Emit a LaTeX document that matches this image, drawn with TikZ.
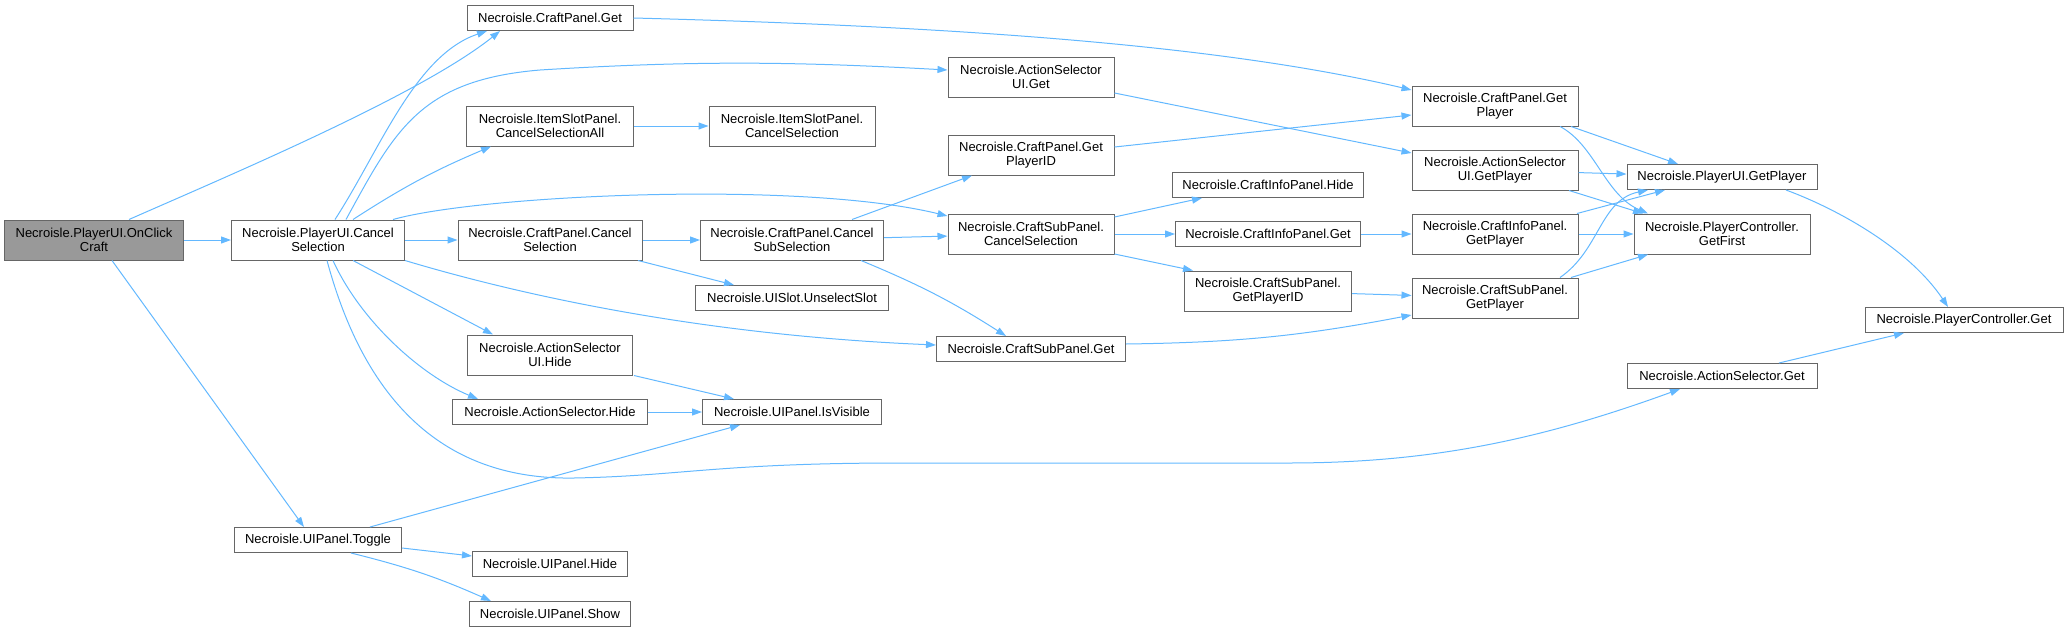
\documentclass[tikz,border=0pt]{standalone}
\usepackage{fontspec}
\setmainfont{Liberation Sans}
\usetikzlibrary{arrows.meta}
\definecolor{edgeblue}{HTML}{63B8FF}
\definecolor{boxgray}{HTML}{666666}
\definecolor{rootgray}{HTML}{999999}
\tikzset{
	fn/.style={draw=boxgray, line width=1pt, fill=white, align=center, inner xsep=2pt, inner ysep=2pt,
		minimum height=25pt, font=\fontsize{13pt}{14.5pt}\selectfont},
	fntwo/.style={fn, minimum height=40pt},
	root/.style={fntwo, fill=rootgray},
	call/.style={draw=edgeblue, line width=1pt, -{Triangle[length=10pt,width=7pt]}}
}
\begin{document}
	\begin{tikzpicture}[x=1pt, y=-1pt]
		\useasboundingbox (0,0) rectangle (2068,632);
		% nodes
		\node[root, minimum width=179] (oc) at (94,240) {Necroisle.PlayerUI.OnClick\\Craft};
		\node[fntwo, minimum width=173] (pucs) at (318,240) {Necroisle.PlayerUI.Cancel\\Selection};
		\node[fn, minimum width=166] (cpget) at (550,18) {Necroisle.CraftPanel.Get};
		\node[fntwo, minimum width=167] (ispall) at (550,126) {Necroisle.ItemSlotPanel.\\CancelSelectionAll};
		\node[fntwo, minimum width=184] (cpcs) at (550,240) {Necroisle.CraftPanel.Cancel\\Selection};
		\node[fntwo, minimum width=165] (asuihide) at (550,355) {Necroisle.ActionSelector\\UI.Hide};
		\node[fn, minimum width=195] (ashide) at (550,412) {Necroisle.ActionSelector.Hide};
		\node[fn, minimum width=179] (upvis) at (792,412) {Necroisle.UIPanel.IsVisible};
		\node[fn, minimum width=167] (uptog) at (318,540) {Necroisle.UIPanel.Toggle};
		\node[fn, minimum width=155] (uphide) at (550,564) {Necroisle.UIPanel.Hide};
		\node[fn, minimum width=161] (upshow) at (550,614) {Necroisle.UIPanel.Show};
		\node[fntwo, minimum width=166] (ispcs) at (792,126) {Necroisle.ItemSlotPanel.\\CancelSelection};
		\node[fntwo, minimum width=183] (cpcss) at (792,240) {Necroisle.CraftPanel.Cancel\\SubSelection};
		\node[fn, minimum width=193] (usunsel) at (792,298) {Necroisle.UISlot.UnselectSlot};
		\node[fntwo, minimum width=166] (asuiget) at (1031,77) {Necroisle.ActionSelector\\UI.Get};
		\node[fntwo, minimum width=166] (cpgpid) at (1031,155) {Necroisle.CraftPanel.Get\\PlayerID};
		\node[fntwo, minimum width=166] (cspcs) at (1031,234) {Necroisle.CraftSubPanel.\\CancelSelection};
		\node[fn, minimum width=189] (cspget) at (1031,349) {Necroisle.CraftSubPanel.Get};
		\node[fn, minimum width=191] (ciphide) at (1268,185) {Necroisle.CraftInfoPanel.Hide};
		\node[fn, minimum width=185] (cipget) at (1268,234) {Necroisle.CraftInfoPanel.Get};
		\node[fntwo, minimum width=167] (cspgpid) at (1268,291) {Necroisle.CraftSubPanel.\\GetPlayerID};
		\node[fntwo, minimum width=166] (cpgp) at (1495,106) {Necroisle.CraftPanel.Get\\Player};
		\node[fntwo, minimum width=166] (asuigp) at (1495,170) {Necroisle.ActionSelector\\UI.GetPlayer};
		\node[fntwo, minimum width=166] (cipgp) at (1495,234) {Necroisle.CraftInfoPanel.\\GetPlayer};
		\node[fntwo, minimum width=166] (cspgp) at (1495,298) {Necroisle.CraftSubPanel.\\GetPlayer};
		\node[fn, minimum width=190] (puigp) at (1722,177) {Necroisle.PlayerUI.GetPlayer};
		\node[fntwo, minimum width=176] (pcfirst) at (1722,234) {Necroisle.PlayerController.\\GetFirst};
		\node[fn, minimum width=198] (pcget) at (1964,320) {Necroisle.PlayerController.Get};
		\node[fn, minimum width=190] (asget) at (1722,376) {Necroisle.ActionSelector.Get};
		% calls
		\draw[call] ([xshift=35]oc.north) .. controls (230,175) and (420,95) .. ([xshift=-50]cpget.south);
		\draw[call] (oc) -- (pucs);
		\draw[call] ([xshift=18]oc.south) -- ([xshift=-14]uptog.north);
		\draw[call] ([xshift=17]pucs.north) .. controls (380,150) and (415,55) .. ([xshift=-63]cpget.south);
		\draw[call] ([xshift=28]pucs.north) .. controls (395,130) and (420,80) .. (540,70) .. controls (700,60) and (800,62) .. ([yshift=7]asuiget.west);
		\draw[call] ([xshift=35]pucs.north) to[bend left=5] ([xshift=-59]ispall.south);
		\draw[call] ([xshift=75]pucs.north) .. controls (480,195) and (800,180) .. ([yshift=18]cspcs.west);
		\draw[call] (pucs) -- (cpcs);
		\draw[call] (pucs.south east) .. controls (520,295) and (700,335) .. ([yshift=4]cspget.west);
		\draw[call] ([xshift=35]pucs.south) -- ([xshift=-57]asuihide.north);
		\draw[call] ([xshift=15]pucs.south) .. controls (360,320) and (420,375) .. ([xshift=-72]ashide.north);
		\draw[call] ([xshift=9]pucs.south) .. controls (370,420) and (460,480) .. (574,478) .. controls (680,476) and (720,463) .. (900,463) -- (1288,463) .. controls (1430,463) and (1540,440) .. ([xshift=-42]asget.south);
		\draw[call] (cpget.east) .. controls (900,25) and (1200,40) .. ([yshift=16]cpgp.west);
		\draw[call] (ispall) -- (ispcs);
		\draw[call] (cpcs) -- (cpcss);
		\draw[call] ([xshift=88]cpcs.south) -- ([xshift=-58]usunsel.north);
		\draw[call] ([xshift=84]asuihide.south) -- ([xshift=-58]upvis.north);
		\draw[call] (ashide) -- (upvis);
		\draw[call] ([xshift=52]uptog.north) -- ([xshift=-52]upvis.south);
		\draw[call] ([yshift=-8]uptog.east) -- ([yshift=8]uphide.west);
		\draw[call] ([xshift=33]uptog.south) to[bend left=5] ([xshift=-59]upshow.north);
		\draw[call] ([yshift=-16]asuiget.east) -- ([yshift=17]asuigp.west);
		\draw[call] ([xshift=60]cpcss.north) -- ([xshift=-59]cpgpid.south);
		\draw[call] (cpcss) -- (cspcs);
		\draw[call] ([xshift=69]cpcss.south) to[bend left=5] ([xshift=-25]cspget.north);
		\draw[call] ([yshift=8]cpgpid.east) -- ([yshift=-9]cpgp.west);
		\draw[call] ([yshift=17]cspcs.east) -- ([xshift=-66]ciphide.south);
		\draw[call] (cspcs) -- (cipget);
		\draw[call] ([yshift=-20]cspcs.east) -- ([xshift=-75]cspgpid.north);
		\draw[call] (cipget) -- (cipgp);
		\draw[call] (cspgpid) -- (cspgp);
		\draw[call] ([yshift=5]cspget.east) to[bend right=5] ([yshift=-17]cspgp.west);
		\draw[call] ([xshift=76]cpgp.south) -- ([xshift=-44]puigp.north);
		\draw[call] ([xshift=65]cpgp.south) .. controls (1595,145) and (1605,195) .. ([xshift=-74]pcfirst.north);
		\draw[call] (asuigp) -- (puigp);
		\draw[call] ([xshift=74]asuigp.south) -- ([xshift=-79]pcfirst.north);
		\draw[call] ([xshift=82]cipgp.north) -- ([xshift=-57]puigp.south);
		\draw[call] (cipgp) -- (pcfirst);
		\draw[call] ([xshift=65]cspgp.north) .. controls (1600,250) and (1600,200) .. ([xshift=-74]puigp.south);
		\draw[call] ([xshift=76]cspgp.north) -- ([xshift=-74]pcfirst.south);
		\draw[call] ([xshift=64]puigp.south) .. controls (1840,210) and (1910,250) .. ([xshift=-16]pcget.north);
		\draw[call] ([xshift=57]asget.north) -- ([xshift=-60]pcget.south);
	\end{tikzpicture}
\end{document}
